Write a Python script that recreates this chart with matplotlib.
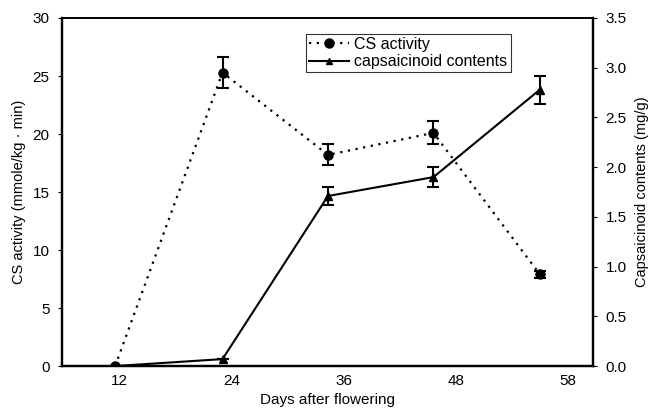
import matplotlib
matplotlib.use("Agg")
import matplotlib.pyplot as plt
from matplotlib.lines import Line2D

plt.rcParams['font.family'] = ['Liberation Sans', 'DejaVu Sans']

# sampling points and tick labels
days = [11.5, 23, 34.3, 45.6, 57]
tick_pos = [12, 24, 36, 48, 60]
tick_labels = ['12', '24', '36', '48', '58']

# CS activity (mmole/kg . min), left axis
cs_activity = [0, 25.3, 18.2, 20.1, 7.9]
cs_err = [0, 1.3, 0.9, 1.0, 0.3]

# capsaicinoid contents (mg/g), right axis
capsaicinoid = [0, 0.07, 1.71, 1.90, 2.78]
cap_err = [0, 0, 0.09, 0.10, 0.14]

fig = plt.figure(figsize=(6.59, 4.09), dpi=100)
ax = fig.add_axes([0.094, 0.105, 0.806, 0.851])
ax2 = ax.twinx()

dots = (0, (1, 2.5))
ax.errorbar(days, cs_activity, yerr=cs_err, fmt='o', ls=dots, color='black',
            lw=1.6, ms=6.5, capsize=4, elinewidth=1.5, capthick=1.5)
ax2.errorbar(days, capsaicinoid, yerr=cap_err, fmt='^', ls='-', color='black',
             lw=1.5, ms=5.5, capsize=4, elinewidth=1.5, capthick=1.5)

ax.set_xlim(5.8, 62.7)
ax.set_ylim(0, 30)
ax2.set_ylim(0, 3.5)
ax.set_xticks(tick_pos)
ax.set_xticklabels(tick_labels)
ax.set_yticks(range(0, 31, 5))
ax2.set_yticks([i * 0.5 for i in range(8)])
ax2.set_yticklabels([f'{i * 0.5:.1f}' for i in range(8)])

ax.tick_params(axis='x', length=0, labelsize=11, pad=6)
ax.tick_params(axis='y', direction='out', length=3, labelsize=11, pad=6)
ax2.tick_params(axis='y', direction='out', length=3, labelsize=11, pad=6)

for a in (ax, ax2):
    for s in a.spines.values():
        s.set_linewidth(1.6)
ax.spines['top'].set_linewidth(1.2)
ax2.spines['top'].set_linewidth(1.2)

ax.set_xlabel('Days after flowering', fontsize=11, labelpad=3)
ax.set_ylabel('CS activity (mmole/kg · min)', fontsize=10.5, labelpad=5)
ax2.set_ylabel('Capsaicinoid contents (mg/g)', fontsize=10.5, labelpad=6)

h1 = Line2D([], [], color='black', ls=dots, lw=1.6, marker='o', ms=6.5)
h2 = Line2D([], [], color='black', ls='-', lw=1.5, marker='^', ms=5)
leg = ax2.legend([h1, h2], ['CS activity', 'capsaicinoid contents'],
                 loc='upper left', bbox_to_anchor=(0.46, 0.955), fontsize=11.5,
                 frameon=True, fancybox=False, handlelength=2.5,
                 handletextpad=0.3, borderpad=0.2, labelspacing=0.15,
                 borderaxespad=0)
leg.get_frame().set_edgecolor('black')
leg.get_frame().set_linewidth(0.8)

fig.savefig('out.png', dpi=100)
